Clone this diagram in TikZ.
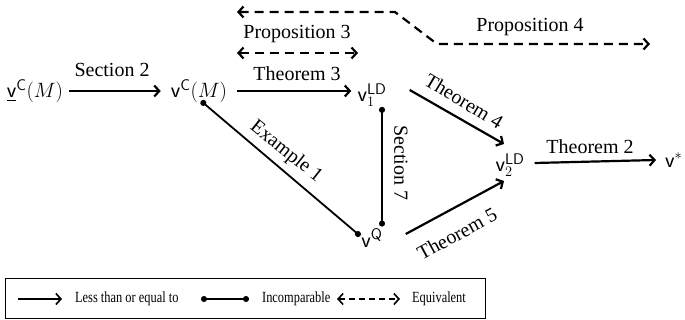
\documentclass[tikz,border=0pt]{standalone}
\usepackage{amsmath}
\usepackage{fontspec}
\setmainfont{Liberation Serif}
\usetikzlibrary{arrows.meta,calc}

\begin{document}
\begin{tikzpicture}[x=1pt, y=-1pt,
    lbl/.style={font=\fontsize{20}{22}\selectfont, inner sep=0pt},
    vert/.style={font=\fontsize{22}{24}\selectfont, inner sep=0pt},
    leg/.style={font=\fontsize{15.5}{18}\selectfont, xscale=0.8, anchor=west, inner sep=0pt},
    arr/.style={-{Straight Barb[length=5pt, width=11pt]}, line width=2.2pt},
    darr/.style={{Straight Barb[length=5pt, width=11pt]}-{Straight Barb[length=5pt, width=11pt]},
                 line width=2.2pt, dash pattern=on 9pt off 6pt},
    inc/.style={{Circle[length=6pt]}-{Circle[length=6pt]}, line width=1.8pt}
  ]
  \useasboundingbox (0,0) rectangle (685,320);
  % Vertices.
  \node[vert] (vcm)   at (35,91)  {$\underline{\mathsf{v}}^{\mathsf{C}}(M)$};
  \node[vert] (vc)    at (199,91) {$\mathsf{v}^{\mathsf{C}}(M)$};
  \node[vert] (vld1)  at (372,95) {$\mathsf{v}_1^{\mathsf{LD}}$};
  \node[vert] (vq)    at (372,238) {$\mathsf{v}^{\mathsf{Q}}$};
  \node[vert] (vld2)  at (510,165) {$\mathsf{v}_2^{\mathsf{LD}}$};
  \node[vert, anchor=west] (vstar) at (665,160) {$\mathsf{v}^{*}$};

  % Less-than-or-equal arrows.
  \draw[arr] ($(vcm.east)+(6,0)$) -- ($(vc.west)+(-10,0)$);
  \node[lbl, anchor=base] (s2) at (112,77) {Section 2};
  \draw[arr] ($(vc.east)+(10,0)$) -- ($(vc.east -| vld1.west)+(-6,0)$);
  \node[lbl, anchor=base] (t3) at (297,81) {Theorem 3};
  \draw[arr] ($(vld1.east)+(23,-5)$) -- ($(vld2.center)+(-6,-21)$);
  \node[lbl, rotate=-31] (t4) at (464,101) {Theorem 4};
  \draw[arr] ($(vq.east)+(23,-4)$) -- ($(vld2.center)+(-6,16)$);
  \node[lbl, rotate=28.5] (t5) at (457,234) {Theorem 5};
  \draw[arr] ($(vld2.east)+(10,-2)$) -- ($(vstar.west)+(-9,0)$);
  \node[lbl, anchor=base] (t2) at (590,154) {Theorem 2};

  % Incomparable pairs.
  \draw[inc] ($(vc.south)+(2,-2)$) -- ($(vq.west)+(-1,-2)$);
  \node[lbl, rotate=-38.5] (ex1) at (286,152) {Example 1};
  \draw[inc] ($(vld1.south)+(10,0)$) -- ($(vq.north)+(10,-2)$);
  \node[lbl, rotate=-90] (s7) at (401,163) {Section 7};

  % Equivalences.
  \coordinate (p3l) at (237,53);
  \coordinate (p3r) at (358,53);
  \draw[darr] (p3l) -- (p3r);
  \node[lbl] (p3) at (297,34) {Proposition 3};
  \coordinate (p4l) at (237,12);
  \coordinate (p4a) at (395,12);
  \coordinate (p4b) at (437,44);
  \coordinate (p4r) at (650,44);
  \draw[darr] (p4l) -- (p4a) -- (p4b) -- (p4r);
  \node[lbl] (p4) at (530,27) {Proposition 4};

  % Legend.
  \draw[line width=1pt] (5,279) rectangle (485,318);
  \coordinate (l1a) at (18,299);
  \coordinate (l1b) at (62,299);
  \draw[arr, line width=1.6pt] (l1a) -- (l1b);
  \node[leg] (leq) at (75,299) {Less than or equal to};
  \coordinate (l2a) at (201,299);
  \coordinate (l2b) at (249,299);
  \draw[inc, line width=1.4pt] (l2a) -- (l2b);
  \node[leg] (lin) at (262,299) {Incomparable};
  \coordinate (l3a) at (337,299);
  \coordinate (l3b) at (400,299);
  \draw[darr, line width=1.6pt, dash pattern=on 6pt off 4pt] (l3a) -- (l3b);
  \node[leg] (leqv) at (412,299) {Equivalent};
\end{tikzpicture}
\end{document}
